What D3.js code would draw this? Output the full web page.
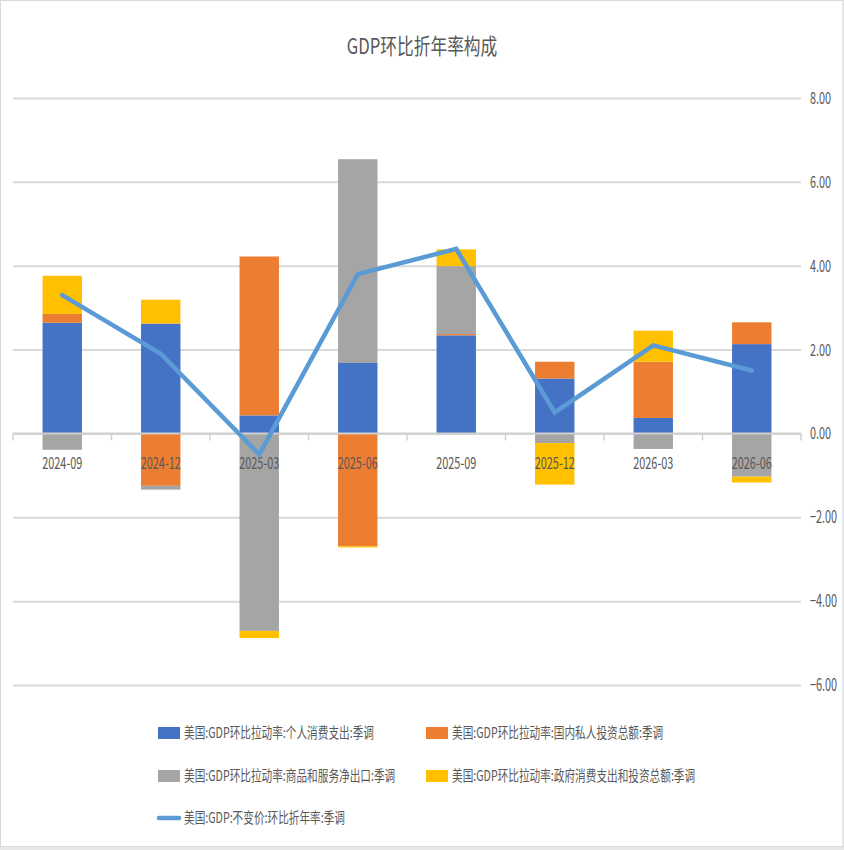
<!DOCTYPE html>
<html>
<head>
<meta charset="utf-8">
<script src="https://cdn.jsdelivr.net/npm/d3@7"></script>
<style>
  body { margin: 0; background: #e8e8e8; }
  text { font-family: "Noto Sans CJK SC", "Noto Sans", sans-serif; fill: #595959; }
</style>
</head>
<body>
<script>
// quarters and contributions (percentage points)
var categories = ["2024-09", "2024-12", "2025-03", "2025-06", "2025-09", "2025-12", "2026-03", "2026-06"];
var pce    = [2.64, 2.62, 0.43, 1.68, 2.34, 1.31, 0.37, 2.13];
var inv    = [0.21, -1.25, 3.79, -2.69, 0.03, 0.40, 1.34, 0.52];
var netExp = [-0.39, -0.09, -4.71, 4.86, 1.62, -0.23, -0.37, -1.03];
var gov    = [0.91, 0.57, -0.17, -0.03, 0.40, -0.99, 0.74, -0.14];
var gdp    = [3.3, 1.9, -0.5, 3.8, 4.4, 0.5, 2.1, 1.5];
var yTicks = [-6, -4, -2, 0, 2, 4, 6, 8];

var seriesNames = [
  "美国:GDP环比拉动率:个人消费支出:季调",
  "美国:GDP环比拉动率:国内私人投资总额:季调",
  "美国:GDP环比拉动率:商品和服务净出口:季调",
  "美国:GDP环比拉动率:政府消费支出和投资总额:季调"
];
var lineName = "美国:GDP:不变价:环比折年率:季调";
var colors = ["#4472C4", "#ED7D31", "#A5A5A5", "#FFC000"];
var lineColor = "#5B9BD5";

var W = 844, H = 850;
var plotLeft = 13, plotRight = 801, plotTop = 98, plotBottom = 685;
var sx = 0.76;   // the original text is narrow, squeeze it horizontally
var legSx = 0.71;

var svg = d3.select("body").append("svg")
    .attr("width", W)
    .attr("height", H);

// white chart box with a thin border
svg.append("rect")
    .attr("x", 0.5).attr("y", 0.5)
    .attr("width", W - 1.5).attr("height", 846)
    .attr("fill", "#fff")
    .attr("stroke", "#d9d9d9");

var x = d3.scaleBand()
    .domain(categories)
    .range([plotLeft, plotRight])
    .paddingInner(0.6)
    .paddingOuter(0.3);

var y = d3.scaleLinear()
    .domain([-6, 8])
    .range([plotBottom, plotTop]);

// build the table the stack needs
var keys = ["pce", "inv", "netExp", "gov"];
var table = categories.map(function(c, i) {
  return { cat: c, pce: pce[i], inv: inv[i], netExp: netExp[i], gov: gov[i] };
});
var stacked = d3.stack().keys(keys).offset(d3.stackOffsetDiverging)(table);

// gridlines + right tick labels
var yAxis = svg.append("g")
    .attr("transform", "translate(" + plotRight + ",0)")
    .call(d3.axisRight(y)
        .tickValues(yTicks)
        .tickSize(-(plotRight - plotLeft))
        .tickPadding(9)
        .tickFormat(d3.format(".2f")));
yAxis.select(".domain").remove();
yAxis.selectAll("line")
    .attr("stroke", "#d9d9d9")
    .attr("stroke-width", 2);
yAxis.selectAll("text")
    .attr("font-size", 17)
    .attr("x", 9 / 0.64)
    .attr("transform", "scale(0.64,1)");

// stacked bars
svg.append("g").selectAll("g")
    .data(stacked)
  .enter().append("g")
    .attr("fill", function(d, i) { return colors[i]; })
  .selectAll("rect")
    .data(function(d) { return d; })
  .enter().append("rect")
    .attr("x", function(d) { return x(d.data.cat); })
    .attr("width", x.bandwidth())
    .attr("y", function(d) { return y(Math.max(d[0], d[1])); })
    .attr("height", function(d) { return Math.abs(y(d[0]) - y(d[1])); });

// category axis on the zero line
var boundaries = categories.map(function(c) { return x(c) - x.step() * x.paddingInner() / 2; });
boundaries.push(plotRight);
var xAxis = svg.append("g");
xAxis.append("line")
    .attr("x1", plotLeft).attr("x2", plotRight)
    .attr("y1", y(0)).attr("y2", y(0))
    .attr("stroke", "#d0d0d0")
    .attr("stroke-width", 2);
xAxis.selectAll(".tick")
    .data(boundaries)
  .enter().append("line")
    .attr("x1", function(d) { return d; })
    .attr("x2", function(d) { return d; })
    .attr("y1", y(0))
    .attr("y2", y(0) + 7)
    .attr("stroke", "#d0d0d0")
    .attr("stroke-width", 1.5);
xAxis.selectAll(".lbl")
    .data(categories)
  .enter().append("g")
    .attr("transform", function(d) { return "translate(" + (x(d) + x.bandwidth() / 2) + "," + (y(0) + 36) + ")"; })
  .append("text")
    .attr("transform", "scale(0.64,1)")
    .attr("text-anchor", "middle")
    .attr("font-size", 17)
    .text(function(d) { return d; });

// GDP line
var line = d3.line()
    .x(function(d, i) { return x(categories[i]) + x.bandwidth() / 2; })
    .y(function(d) { return y(d); });
svg.append("path")
    .datum(gdp)
    .attr("fill", "none")
    .attr("stroke", lineColor)
    .attr("stroke-width", 4.5)
    .attr("stroke-linejoin", "miter")
    .attr("stroke-linecap", "round")
    .attr("d", line);

// title
svg.append("g")
    .attr("transform", "translate(422,54)")
  .append("text")
    .attr("transform", "scale(" + sx + ",1)")
    .attr("text-anchor", "middle")
    .attr("font-size", 22)
    .text("GDP环比折年率构成");

// legend
var legendPos = [[158, 733], [426, 733], [158, 776], [426, 776]];
var leg = svg.append("g").selectAll("g")
    .data(seriesNames)
  .enter().append("g")
    .attr("transform", function(d, i) { return "translate(" + legendPos[i][0] + "," + legendPos[i][1] + ")"; });
leg.append("rect")
    .attr("x", 0).attr("y", -6)
    .attr("width", 22).attr("height", 12)
    .attr("fill", function(d, i) { return colors[i]; });
leg.append("text")
    .attr("transform", "translate(26,5) scale(" + legSx + ",1)")
    .attr("font-size", 15)
    .text(function(d) { return d; });

var legLine = svg.append("g").attr("transform", "translate(158,818)");
legLine.append("line")
    .attr("x1", 1).attr("x2", 21)
    .attr("stroke", lineColor)
    .attr("stroke-width", 4.5)
    .attr("stroke-linecap", "round");
legLine.append("text")
    .attr("transform", "translate(26,5) scale(" + legSx + ",1)")
    .attr("font-size", 15)
    .text(lineName);
</script>
</body>
</html>
